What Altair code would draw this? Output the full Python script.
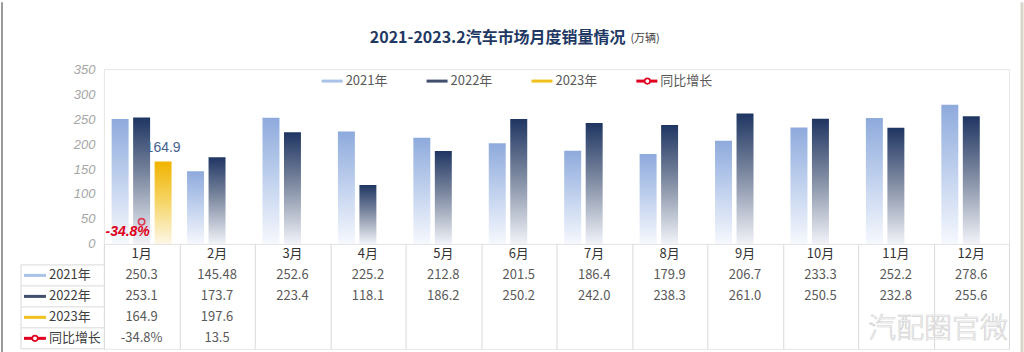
import altair as alt
import pandas as pd

# ---------------- data ----------------
months = ["1月", "2月", "3月", "4月", "5月", "6月", "7月", "8月", "9月", "10月", "11月", "12月"]
years = ["2021年", "2022年", "2023年"]
sales_2021 = [250.3, 145.48, 252.6, 225.2, 212.8, 201.5, 186.4, 179.9, 206.7, 233.3, 252.2, 278.6]
sales_2022 = [253.1, 173.7, 223.4, 118.1, 186.2, 250.2, 242.0, 238.3, 261.0, 250.5, 232.8, 255.6]
sales_2023 = [164.9, 197.6]
bar_months_2023 = ["1月"]            # only January 2023 is drawn as a bar
growth_text = ["-34.8%", "13.5"]      # table row 同比增长
growth_points = [-34.8]               # plotted growth marker(s)
growth_point_months = ["1月"]
row_labels = ["2021年", "2022年", "2023年", "同比增长"]
header_key = "月份"
title_main = "2021-2023.2汽车市场月度销量情况"
title_unit = "(万辆)"
watermark = "汽配圈官微"

# ---------------- style ----------------
W, H = 906, 175
TH = 105
CJK = "Noto Sans CJK SC"
c_title = "#1f3864"
c_red = "#e00020"
swatch_colors = ["#a9c2e8", "#3f4f6c", "#f0c020", c_red]

def grad(stops):
    return alt.Gradient(
        gradient="linear",
        stops=[alt.GradientStop(offset=o, color=c) for o, c in stops],
        x1=0, x2=0, y1=0, y2=1,
    )

grads = {
    "2021年": grad([(0, "#8eaadc"), (0.5, "#c2d2ee"), (1, "#f6f8fd")]),
    "2022年": grad([(0, "#1f3562"), (0.45, "#7b879f"), (1, "#f1f3f8")]),
    "2023年": grad([(0, "#f0b400"), (0.5, "#f6d66a"), (1, "#fdf7e6")]),
}

# ---------------- bar data ----------------
rec = []
for m, v in zip(months, sales_2021):
    rec.append({"month": m, "year": "2021年", "value": v})
for m, v in zip(months, sales_2022):
    rec.append({"month": m, "year": "2022年", "value": v})
for m, v in zip(months, sales_2023):
    if m in bar_months_2023:
        rec.append({"month": m, "year": "2023年", "value": v})
bars_df = pd.DataFrame(rec)

X = alt.X("month:N", scale=alt.Scale(domain=months, paddingInner=0, paddingOuter=0), axis=None)
XO = alt.XOffset("year:N", scale=alt.Scale(domain=years, paddingInner=0.21, paddingOuter=0.36))
Y = alt.Y(
    "value:Q",
    scale=alt.Scale(domain=[0, 350]),
    axis=alt.Axis(values=list(range(0, 351, 50)), ticks=False, domain=False, grid=False,
                  title=None, labelFontStyle="italic", labelColor="#a6a6a6",
                  labelFontSize=13, labelPadding=9, labelFont="Liberation Sans"),
)

bar_layers = []
for yr in years:
    bar_layers.append(
        alt.Chart(bars_df).transform_filter(alt.datum.year == yr)
        .mark_bar(color=grads[yr])
        .encode(x=X, xOffset=XO, y=Y)
    )

label_2023 = (
    alt.Chart(bars_df).transform_filter(alt.datum.year == "2023年")
    .mark_text(dy=-14, color="#44618f", fontSize=14, font="Liberation Sans")
    .encode(x=X, xOffset=XO, y=Y, text=alt.Text("value:Q", format=".1f"))
)
bars = alt.layer(*bar_layers, label_2023)

growth_df = pd.DataFrame({"month": growth_point_months, "g": growth_points,
                          "label": growth_text[:len(growth_points)]})
YG = alt.Y("g:Q", scale=alt.Scale(domain=[-50, 70]), axis=None)
growth_pt = alt.Chart(growth_df).mark_point(shape="circle", filled=False, color=c_red,
                                            size=40, strokeWidth=1.6).encode(x=X, y=YG)
growth_lbl = alt.Chart(growth_df).mark_text(color=c_red, fontWeight="bold", fontStyle="italic",
                                            fontSize=14, dx=-14, dy=10,
                                            font="Liberation Sans").encode(x=X, y=YG, text="label:N")
growth = alt.layer(growth_pt, growth_lbl)

# legend (custom)
legend_layers = []
for i, lab in enumerate(row_labels):
    x0 = 218 + 105 * i
    ldf = pd.DataFrame({"label": [lab]})
    legend_layers.append(
        alt.Chart(ldf).mark_rule(color=swatch_colors[i], strokeWidth=3)
        .encode(x=alt.value(x0), x2=alt.value(x0 + 21), y=alt.value(12))
    )
    if lab == "同比增长":
        legend_layers.append(
            alt.Chart(ldf).mark_point(shape="circle", filled=True, fill="white", stroke=c_red,
                                      strokeWidth=1.6, size=30, opacity=1)
            .encode(x=alt.value(x0 + 11), y=alt.value(12))
        )
    legend_layers.append(
        alt.Chart(ldf).mark_text(align="left", baseline="middle", fontSize=13, color="#595959", font=CJK)
        .encode(x=alt.value(x0 + 24), y=alt.value(12), text="label:N")
    )

tdf = pd.DataFrame({"t": [title_main], "u": [title_unit]})
title_l = alt.Chart(tdf).mark_text(align="right", baseline="middle", fontSize=16, fontWeight="bold",
                                   color=c_title, font=CJK).encode(
    x=alt.value(522), y=alt.value(-31), text="t:N")
unit_l = alt.Chart(tdf).mark_text(align="left", baseline="middle", fontSize=11,
                                  color="#404040", font=CJK).encode(
    x=alt.value(527), y=alt.value(-30), text="u:N")

frame_l = alt.Chart(tdf).mark_rule(color="#9a9a9a", strokeWidth=2).encode(
    x=alt.value(-102), y=alt.value(-67), y2=alt.value(285))
frame_r = alt.Chart(tdf).mark_rule(color="#d9d5c9", strokeWidth=3).encode(
    x=alt.value(919), y=alt.value(-67), y2=alt.value(285))

top = alt.layer(
    bars, growth, *legend_layers, title_l, unit_l, frame_l, frame_r
).resolve_scale(y="independent").properties(width=W, height=H)

# ---------------- table ----------------
table_rows = [header_key] + row_labels
cells = []
for i, m in enumerate(months):
    cells.append({"month": m, "row": header_key, "text": m})
    cells.append({"month": m, "row": "2021年", "text": str(sales_2021[i])})
    cells.append({"month": m, "row": "2022年", "text": str(sales_2022[i])})
    if i < len(sales_2023):
        cells.append({"month": m, "row": "2023年", "text": str(sales_2023[i])})
    if i < len(growth_text):
        cells.append({"month": m, "row": "同比增长", "text": growth_text[i]})
cells_df = pd.DataFrame(cells)

XT = alt.X("month:N", scale=alt.Scale(type="band", domain=months, paddingInner=0, paddingOuter=0),
           axis=alt.Axis(grid=True, tickBand="extent", labels=False, ticks=False, domain=False,
                         title=None, gridColor="#d9d9d9"))
ysc = alt.Scale(type="band", domain=table_rows, paddingInner=0, paddingOuter=0)
YT = alt.Y("row:N", scale=ysc,
           axis=alt.Axis(grid=True, tickBand="extent", labels=False, ticks=False, domain=False,
                         title=None, gridColor="#d9d9d9"))

head_t = alt.Chart(cells_df).transform_filter(alt.datum.row == header_key).mark_text(
    fontSize=13, color="#333333", font=CJK).encode(x=XT, y=YT, text="text:N")
val_t = alt.Chart(cells_df).transform_filter(alt.datum.row != header_key).mark_text(
    fontSize=13, color="#595959", font=CJK).encode(x=XT, y=YT, text="text:N")

rl_df = pd.DataFrame({"row": row_labels})
row_lines = alt.Chart(rl_df).mark_rule(color="#d9d9d9").encode(
    y=alt.Y("row:N", scale=ysc, bandPosition=0, axis=None), x=alt.value(-83), x2=alt.value(0))
bottom_line = alt.Chart(tdf).mark_rule(color="#d9d9d9").encode(
    y=alt.value(TH), x=alt.value(-83), x2=alt.value(0))
left_line = alt.Chart(tdf).mark_rule(color="#d9d9d9").encode(
    x=alt.value(-83), y=alt.value(TH / 5), y2=alt.value(TH))
row_text = alt.Chart(rl_df).mark_text(align="left", baseline="middle", fontSize=13,
                                      color="#404040", font=CJK).encode(
    x=alt.value(-55), y=alt.Y("row:N", scale=ysc, axis=None), text="row:N")
swatch = alt.Chart(rl_df).mark_rule(strokeWidth=3).encode(
    x=alt.value(-80), x2=alt.value(-58), y=alt.Y("row:N", scale=ysc, axis=None),
    color=alt.Color("row:N", scale=alt.Scale(domain=row_labels, range=swatch_colors), legend=None))
sw_pt = alt.Chart(rl_df).transform_filter(alt.datum.row == "同比增长").mark_point(
    shape="circle", filled=True, fill="white", stroke=c_red, strokeWidth=1.6, size=30, opacity=1).encode(
    x=alt.value(-69), y=alt.Y("row:N", scale=ysc, axis=None))
wm_df = pd.DataFrame({"w": [watermark]})
wm = alt.Chart(wm_df).mark_text(align="right", baseline="middle", fontSize=28, fill="#fafafa",
                                stroke="#cfcfcf", strokeWidth=0.6, fontWeight=300,
                                font=CJK).encode(x=alt.value(905), y=alt.value(86), text="w:N")

table = alt.layer(head_t, val_t, row_lines, bottom_line, left_line, swatch, sw_pt, row_text, wm
                  ).properties(width=W, height=TH)

chart = alt.vconcat(top, table, spacing=0, bounds="flush").properties(
    padding={"left": 0, "top": 0, "right": 0, "bottom": 0},
    background="white",
).configure_view(stroke="#e6e6e6")

chart.save("out.html", embed_options={"renderer": "svg", "actions": False})
